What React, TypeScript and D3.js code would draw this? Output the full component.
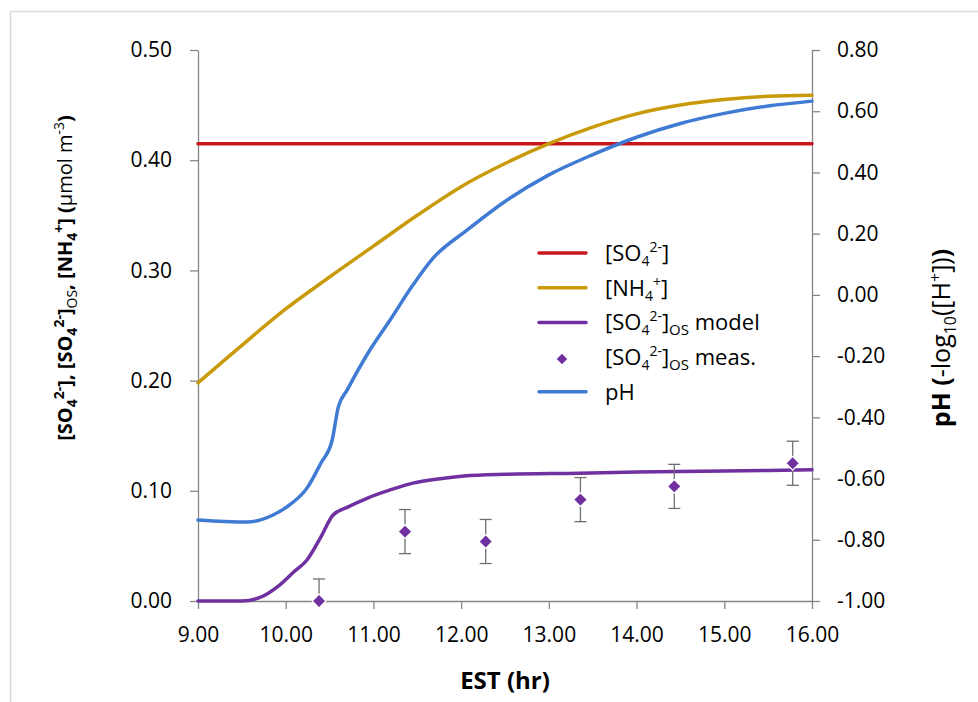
import React, { useEffect, useRef } from 'react';
import * as d3 from 'd3';

// x ticks (EST, hr)
const xTicks = [9, 10, 11, 12, 13, 14, 15, 16];
const leftTicks = [0, 0.1, 0.2, 0.3, 0.4, 0.5];
const rightTicks = [-1.0, -0.8, -0.6, -0.4, -0.2, 0, 0.2, 0.4, 0.6, 0.8];

// [SO4 2-] (constant)
const so4Hours = [9, 16];
const so4Values = [0.415, 0.415];

// [NH4+]
const nh4Hours = [9.0, 9.5, 10, 10.5, 11, 11.5, 12, 12.5, 13, 13.5, 14, 14.5, 15, 15.5, 16];
const nh4Values = [0.198, 0.232, 0.265, 0.294, 0.322, 0.350, 0.376, 0.397, 0.415, 0.430, 0.442, 0.450, 0.455, 0.458, 0.459];

// [SO4 2-]OS model
const osHours = [9.0, 9.5, 9.7, 9.93, 10.1, 10.24, 10.4, 10.54, 10.7, 10.92, 11.2, 11.45, 11.76, 12.03, 12.5, 13.35, 14, 15, 16];
const osValues = [0, 0, 0.003, 0.0145, 0.027, 0.037, 0.058, 0.078, 0.085, 0.093, 0.101, 0.107, 0.111, 0.1134, 0.115, 0.116, 0.117, 0.118, 0.119];

// [SO4 2-]OS measured, with error
const measHours = [10.38, 11.36, 12.28, 13.36, 14.43, 15.78];
const measValues = [0.0, 0.063, 0.054, 0.092, 0.104, 0.125];
const measErrors = [0.02, 0.02, 0.02, 0.02, 0.02, 0.02];

// pH (right axis)
const phHours = [9.0, 9.3, 9.56, 9.85, 10.0, 10.25, 10.4, 10.53, 10.6, 10.7, 10.96, 11.19, 11.45, 11.68, 12.07, 12.5, 13, 13.5, 14, 14.5, 15, 15.5, 16];
const phValues = [-0.735, -0.740, -0.742, -0.72, -0.695, -0.628, -0.55, -0.474, -0.366, -0.311, -0.18, -0.082, 0.032, 0.12, 0.212, 0.305, 0.392, 0.458, 0.515, 0.560, 0.593, 0.617, 0.633];

const RED = '#c8161d';
const GOLD = '#c99a0a';
const PURPLE = '#7030a0';
const BLUE = '#3f7bd3';
const AXIS = '#868686';
const FONT = '"Open Sans", "Noto Sans", sans-serif';

export default function App() {
  const ref = useRef<SVGSVGElement>(null);

  useEffect(() => {
    const svg = d3.select(ref.current);
    svg.selectAll('*').remove();

    const margin = { top: 50, left: 198, right: 812, bottom: 601 };
    const x = d3.scaleLinear().domain([9, 16]).range([margin.left, margin.right]);
    const yL = d3.scaleLinear().domain([0, 0.5]).range([margin.bottom, margin.top]);
    const yR = d3.scaleLinear().domain([-1, 0.8]).range([margin.bottom, margin.top]);
    const fmt = (d: any) => d3.format('.2f')(d).replace('−', '-');

    // chart border
    svg.append('rect')
      .attr('x', 10.5).attr('y', 11.5)
      .attr('width', 1200).attr('height', 1200)
      .attr('fill', 'none').attr('stroke', '#d9d9d9').attr('stroke-width', 1.5);

    // axes
    const xAxis = svg.append('g')
      .attr('transform', `translate(0,${margin.bottom})`)
      .call(d3.axisBottom(x).tickValues(xTicks).tickSize(8).tickSizeOuter(0).tickPadding(14).tickFormat(fmt));
    const yAxisL = svg.append('g')
      .attr('transform', `translate(${margin.left},0)`)
      .call(d3.axisLeft(yL).tickValues(leftTicks).tickSize(8).tickSizeOuter(0).tickPadding(18).tickFormat(fmt));
    const yAxisR = svg.append('g')
      .attr('transform', `translate(${margin.right},0)`)
      .call(d3.axisRight(yR).tickValues(rightTicks).tickSize(8).tickSizeOuter(0).tickPadding(17).tickFormat(fmt));

    [xAxis, yAxisL, yAxisR].forEach(a => {
      a.select('.domain').attr('stroke', AXIS).attr('stroke-width', 1.3);
      a.selectAll('.tick line').attr('stroke', AXIS).attr('stroke-width', 1.3);
      a.selectAll('.tick text')
        .attr('fill', '#000')
        .attr('font-family', FONT)
        .attr('font-size', '21px');
    });
    xAxis.selectAll('.tick text').attr('dy', '0.9em');

    const line = (xs: number[], ys: number[], yScale: d3.ScaleLinear<number, number>) =>
      d3.line<number>()
        .x((d, i) => x(xs[i]))
        .y(d => yScale(d))
        .curve(d3.curveMonotoneX)(ys);

    const drawLine = (xs: number[], ys: number[], yScale: d3.ScaleLinear<number, number>, color: string) =>
      svg.append('path')
        .attr('d', line(xs, ys, yScale) as string)
        .attr('fill', 'none')
        .attr('stroke', color)
        .attr('stroke-width', 3.5)
        .attr('stroke-linejoin', 'round')
        .attr('stroke-linecap', 'round');

    drawLine(so4Hours, so4Values, yL, RED);
    drawLine(nh4Hours, nh4Values, yL, GOLD);
    drawLine(phHours, phValues, yR, BLUE);
    drawLine(osHours, osValues, yL, PURPLE);

    // error bars
    const eb = svg.append('g').attr('stroke', '#6f6f6f').attr('stroke-width', 1.3);
    measHours.forEach((h, i) => {
      const cx = x(h);
      const top = measValues[i] + measErrors[i];
      const bot = Math.max(0, measValues[i] - measErrors[i]);
      eb.append('line').attr('x1', cx).attr('x2', cx).attr('y1', yL(top)).attr('y2', yL(bot));
      eb.append('line').attr('x1', cx - 6).attr('x2', cx + 6).attr('y1', yL(top)).attr('y2', yL(top));
      if (measValues[i] - measErrors[i] >= 0) {
        eb.append('line').attr('x1', cx - 6).attr('x2', cx + 6).attr('y1', yL(bot)).attr('y2', yL(bot));
      }
    });

    // measured diamonds
    const diamond = d3.symbol().type(d3.symbolDiamond2).size(120);
    svg.selectAll('path.meas')
      .data(measValues)
      .enter().append('path')
      .attr('class', 'meas')
      .attr('d', diamond)
      .attr('transform', (d, i) => `translate(${x(measHours[i])},${yL(d)})`)
      .attr('fill', PURPLE)
      .attr('stroke', '#fff')
      .attr('stroke-width', 1.2);

    // legend
    const legend = svg.append('g').attr('font-family', FONT).attr('font-size', '22px');
    const legendRows = [
      { kind: 'line', color: RED, label: 'so4' },
      { kind: 'line', color: GOLD, label: 'nh4' },
      { kind: 'line', color: PURPLE, label: 'osmodel' },
      { kind: 'point', color: PURPLE, label: 'osmeas' },
      { kind: 'line', color: BLUE, label: 'ph' },
    ];
    legendRows.forEach((r, i) => {
      const ly = 253 + i * 34.7;
      if (r.kind === 'line') {
        legend.append('line')
          .attr('x1', 539).attr('x2', 586).attr('y1', ly).attr('y2', ly)
          .attr('stroke', r.color).attr('stroke-width', 3.5).attr('stroke-linecap', 'round');
      } else {
        legend.append('path')
          .attr('d', d3.symbol().type(d3.symbolDiamond2).size(70)())
          .attr('transform', `translate(562,${ly + 2})`)
          .attr('fill', r.color);
      }
      const t = legend.append('text').attr('x', 605).attr('y', ly + 8);
      if (r.label === 'ph') {
        t.text('pH');
        return;
      }
      if (r.label === 'nh4') {
        t.append('tspan').text('[NH');
        t.append('tspan').attr('font-size', '14px').attr('dy', 5).text('4');
        t.append('tspan').attr('font-size', '14px').attr('dy', -14).text('+');
        t.append('tspan').attr('dy', 9).text(']');
        return;
      }
      t.append('tspan').text('[SO');
      t.append('tspan').attr('font-size', '14px').attr('dy', 5).text('4');
      t.append('tspan').attr('font-size', '14px').attr('dy', -14).text('2-');
      t.append('tspan').attr('dy', 9).text(']');
      if (r.label === 'osmodel' || r.label === 'osmeas') {
        t.append('tspan').attr('font-size', '15px').attr('dy', 5).text('OS');
        t.append('tspan').attr('dy', -5).text(r.label === 'osmodel' ? ' model' : ' meas.');
      }
    });

    // x title
    svg.append('text')
      .attr('x', (margin.left + margin.right) / 2)
      .attr('y', 689)
      .attr('text-anchor', 'middle')
      .attr('font-family', FONT)
      .attr('font-weight', 'bold')
      .attr('font-size', '24px')
      .text('EST (hr)');

    const sub = (g: any, s: string, dy: number, w = 'bold', fs = '14px') =>
      g.append('tspan').attr('font-size', fs).attr('dy', dy).attr('font-weight', w).text(s);

    // left title
    const lt = svg.append('text')
      .attr('transform', 'translate(72,278) rotate(-90)')
      .attr('text-anchor', 'middle')
      .attr('font-family', FONT)
      .attr('font-weight', 'bold')
      .attr('font-size', '20px');
    lt.append('tspan').text('[SO');
    sub(lt, '4', 5); sub(lt, '2-', -13);
    lt.append('tspan').attr('dy', 8).text('], [SO');
    sub(lt, '4', 5); sub(lt, '2-', -13);
    lt.append('tspan').attr('dy', 8).text(']');
    sub(lt, 'OS', 5, 'normal');
    lt.append('tspan').attr('dy', -5).text(', [NH');
    sub(lt, '4', 5); sub(lt, '+', -13);
    lt.append('tspan').attr('dy', 8).text('] (');
    lt.append('tspan').attr('font-weight', 'normal').text('µmol m');
    sub(lt, '-3', -8, 'normal');
    lt.append('tspan').attr('dy', 8).text(')');

    // right title
    const rt = svg.append('text')
      .attr('transform', 'translate(950,338) rotate(-90)')
      .attr('text-anchor', 'middle')
      .attr('font-family', FONT)
      .attr('font-weight', 'bold')
      .attr('font-size', '25px');
    rt.append('tspan').text('pH (');
    rt.append('tspan').attr('font-weight', 'normal').text('-log');
    sub(rt, '10', 6, 'normal', '16px');
    rt.append('tspan').attr('dy', -6).attr('font-weight', 'normal').text('([H');
    sub(rt, '+', -9, 'normal', '16px');
    rt.append('tspan').attr('dy', 9).attr('font-weight', 'normal').text('])');
    rt.append('tspan').text(')');
  }, []);

  return (
    <svg ref={ref} width={978} height={702}
      style={{ position: 'absolute', left: 0, top: 0, background: '#fff' }} />
  );
}
